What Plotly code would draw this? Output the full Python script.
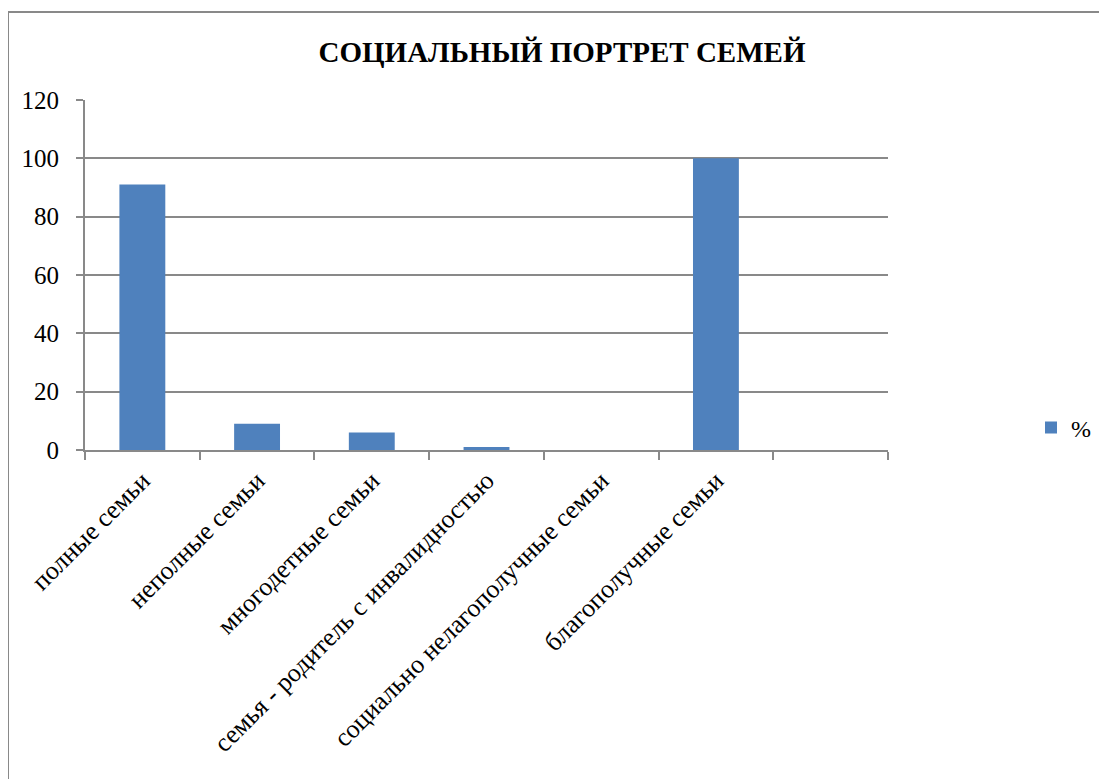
import plotly.graph_objects as go

categories = ["полные семьи", "неполные семьи", "многодетные семьи",
              "семья - родитель с инвалидностью", "социально нелагополучные семьи",
              "благополучные семьи", " "]
values = [91, 9, 6, 1, 0, 100, None]
series_name = "%"
y_ticks = [0, 20, 40, 60, 80, 100, 120]

FONT = "Liberation Serif"
OFF = 8  # page body offset
L, T = 85 - OFF, 100 - OFF
W, H = 1107 - OFF, 779 - OFF
pw, ph = 803, 350
R, B = W - L - pw, H - T - ph

fig = go.Figure()
fig.add_trace(go.Bar(x=categories, y=values, name=series_name,
                     marker=dict(color="#4F81BD", line=dict(color="#4F81BD", width=0))))

fig.update_layout(
    width=W, height=H,
    margin=dict(l=L, r=R, t=T, b=B, autoexpand=False),
    paper_bgcolor="white", plot_bgcolor="white",
    bargap=0.6,
    font=dict(family=FONT, color="black", size=25),
    title=dict(text="<b>СОЦИАЛЬНЫЙ ПОРТРЕТ СЕМЕЙ</b>", x=(562 - OFF) / W, xanchor="center",
               y=1 - (52 - OFF) / H, yanchor="middle", xref="container", yref="container",
               font=dict(size=29, family=FONT)),
    showlegend=True,
    legend=dict(x=(1031 - 85) / pw, y=(450 - 428) / ph, xanchor="left", yanchor="middle",
                font=dict(size=24, family=FONT), bgcolor="rgba(0,0,0,0)", itemwidth=30),
    xaxis=dict(type="category", tickangle=-45, showline=True, linecolor="#898989", linewidth=2,
               ticks="outside", tickson="boundaries", ticklen=8, tickcolor="#898989", tickwidth=2,
               showgrid=False, tickfont=dict(size=26, family=FONT), ticklabelstandoff=3),
    yaxis=dict(range=[0, 120], tickvals=y_ticks, showline=True, linecolor="#898989", linewidth=2,
               ticks="outside", ticklen=7, tickcolor="#898989", tickwidth=2,
               showgrid=True, gridcolor="#898989", gridwidth=2, zeroline=False,
               tickfont=dict(size=25, family=FONT), ticklabelstandoff=12),
)

fig.add_shape(type="rect", xref="paper", yref="paper",
              x0=(8 - 85) / pw, x1=(1120 - 85) / pw,
              y0=(450 - 800) / ph, y1=1 + (100 - 12) / ph,
              line=dict(color="#898989", width=2), layer="below")

fig.write_html("out.html")
